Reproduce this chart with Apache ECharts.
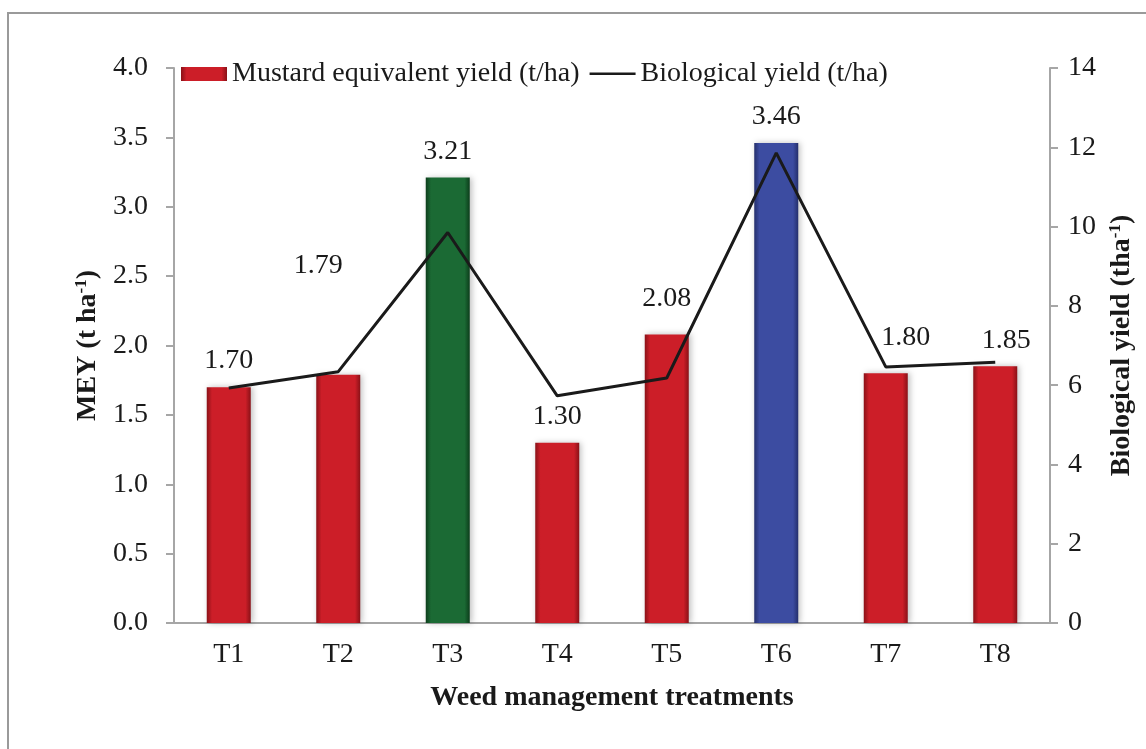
<!DOCTYPE html>
<html>
<head>
<meta charset="utf-8">
<script src="https://cdn.jsdelivr.net/npm/echarts@6/dist/echarts.min.js"></script>
<style>
  html, body { margin: 0; padding: 0; background: #fff; }
  #chart { width: 1146px; height: 749px; }
</style>
</head>
<body>
<div id="chart"></div>
<script>
// data
var treatments = ['T1', 'T2', 'T3', 'T4', 'T5', 'T6', 'T7', 'T8'];
var mey = [1.70, 1.79, 3.21, 1.30, 2.08, 3.46, 1.80, 1.85];
var bioYield = [5.93, 6.34, 9.85, 5.73, 6.18, 11.86, 6.46, 6.58];
var barColors = ['red', 'red', 'green', 'red', 'red', 'blue', 'red', 'red'];
// label nudges so text clears the line
var labelOffsets = [[0, 0], [-20, -83], [0, 0], [0, 0], [0, -10], [0, 0], [20, -10], [11, 0]];

var palette = {
    red: ['#8a1117', '#cc1e28', '#8a1117'],
    green: ['#0c3d1b', '#1b6a34', '#0c3d1b'],
    blue: ['#242f6c', '#3c4ca1', '#242f6c']
};

function barFill(name) {
    var c = palette[name];
    return new echarts.graphic.LinearGradient(0, 0, 1, 0, [
        { offset: 0, color: c[0] },
        { offset: 0.12, color: c[1] },
        { offset: 0.88, color: c[1] },
        { offset: 1, color: c[2] }
    ]);
}

var chart = echarts.init(document.getElementById('chart'));
var font = 'Liberation Serif';
var fs = 28;

var barData = mey.map(function (v, i) {
    return {
        value: v,
        itemStyle: { color: barFill(barColors[i]) },
        label: { offset: labelOffsets[i] }
    };
});

var supRich = {
    a: { fontFamily: font, fontSize: fs, fontWeight: 'bold', color: '#1a1a1a' },
    s: { fontFamily: font, fontSize: 17, fontWeight: 'bold', color: '#1a1a1a', verticalAlign: 'top', padding: [0, 0, 12, 0] }
};

// thin line icon for the legend (tiny segments keep the box tall)
var lineIcon = 'path://M0,0 L0.01,0 L0.01,0.01 Z M0,11 L100,11 L100,16 L0,16 Z M0,28 L0.01,28 L0.01,27.99 Z';

var option = {
    textStyle: { fontFamily: font, color: '#1a1a1a' },
    animation: false,
    graphic: [{
        type: 'rect',
        shape: { x: 8, y: 13, width: 1200, height: 800 },
        style: { fill: 'none', stroke: '#9a9a9a', lineWidth: 2 },
        silent: true
    }],
    grid: { left: 174, right: 96, top: 68, bottom: 126, outerBoundsMode: 'none', containLabel: false },
    legend: {
        top: 55,
        left: 176,
        itemWidth: 46,
        itemHeight: 14,
        itemGap: 10,
        textStyle: { fontFamily: font, fontSize: fs, color: '#1a1a1a' },
        data: [
            { name: 'Mustard equivalent yield (t/ha)', icon: 'rect', itemStyle: { color: barFill('red') } },
            { name: 'Biological yield (t/ha)', icon: lineIcon, itemStyle: { color: '#1a1a1a', borderWidth: 0 } }
        ]
    },
    xAxis: {
        type: 'category',
        data: treatments,
        axisLine: { lineStyle: { color: '#a6a6a6', width: 2 } },
        axisTick: { length: 8, lineStyle: { color: '#a6a6a6', width: 2 } },
        axisLabel: { fontFamily: font, fontSize: fs, color: '#1a1a1a', margin: 18 },
        name: 'Weed management treatments',
        nameLocation: 'middle',
        nameGap: 61,
        nameTextStyle: { fontFamily: font, fontSize: fs, fontWeight: 'bold', color: '#1a1a1a' }
    },
    yAxis: [{
        type: 'value',
        min: 0,
        max: 4,
        interval: 0.5,
        splitLine: { show: false },
        axisLine: { show: true, lineStyle: { color: '#a6a6a6', width: 2 } },
        axisTick: { show: true, length: 8, lineStyle: { color: '#a6a6a6', width: 2 } },
        axisLabel: {
            fontFamily: font, fontSize: fs, color: '#1a1a1a', margin: 26,
            formatter: function (v) { return v.toFixed(1); }
        },
        name: '{a|MEY (t ha}{s|-1}{a|)}',
        nameLocation: 'middle',
        nameRotate: 90,
        nameGap: 72,
        nameTextStyle: { rich: supRich }
    }, {
        type: 'value',
        min: 0,
        max: 14,
        interval: 2,
        splitLine: { show: false },
        axisLine: { show: true, lineStyle: { color: '#a6a6a6', width: 2 } },
        axisTick: { show: true, length: 8, lineStyle: { color: '#a6a6a6', width: 2 } },
        axisLabel: { fontFamily: font, fontSize: fs, color: '#1a1a1a', margin: 18 },
        name: '{a|Biological yield (tha}{s|-1}{a|)}',
        nameLocation: 'middle',
        nameRotate: 90,
        nameGap: 56,
        nameTextStyle: { rich: supRich }
    }],
    series: [{
        name: 'Mustard equivalent yield (t/ha)',
        type: 'bar',
        yAxisIndex: 0,
        barWidth: 44,
        data: barData,
        itemStyle: {
            shadowColor: 'rgba(0,0,0,0.25)',
            shadowBlur: 6,
            shadowOffsetX: 2
        },
        label: {
            show: true,
            position: 'top',
            distance: 12,
            fontFamily: font,
            fontSize: fs,
            color: '#1a1a1a',
            formatter: function (p) { return p.value.toFixed(2); }
        },
        z: 2
    }, {
        name: 'Biological yield (t/ha)',
        type: 'line',
        yAxisIndex: 1,
        data: bioYield,
        symbol: 'none',
        lineStyle: { color: '#1a1a1a', width: 3 },
        itemStyle: { color: '#1a1a1a' },
        z: 3
    }]
};

chart.setOption(option);
</script>
</body>
</html>
